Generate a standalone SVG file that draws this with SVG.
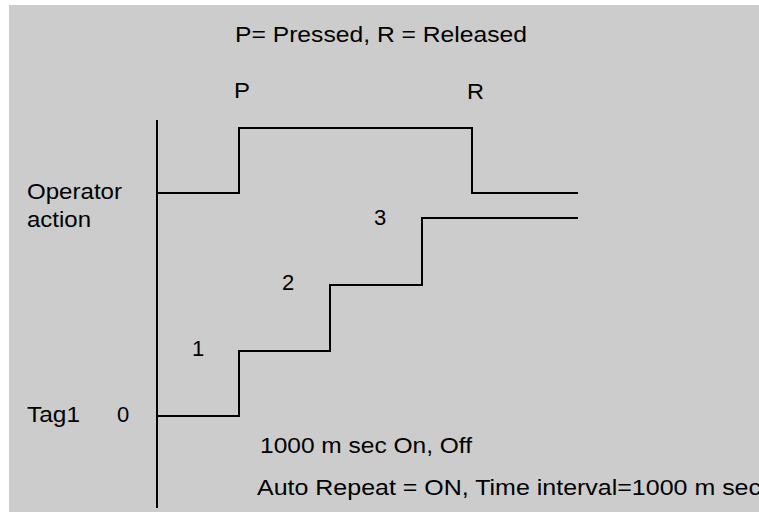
<svg xmlns="http://www.w3.org/2000/svg" width="759" height="512" viewBox="0 0 759 512">
<style>
text{font-family:"Liberation Sans",Arial,sans-serif;font-size:22px;fill:#000}
.ln{fill:none;stroke:#000;stroke-width:2;stroke-linejoin:miter}
</style>
<rect x="0" y="0" width="759" height="512" fill="#ffffff"/>
<rect x="9" y="5" width="750" height="507" fill="#cccccc"/>
<g id="title"><text x="235" y="42" textLength="292" lengthAdjust="spacingAndGlyphs">P= Pressed, R = Released</text></g>
<g id="labelP"><text x="234" y="98" textLength="16" lengthAdjust="spacingAndGlyphs">P</text></g>
<g id="labelR"><text x="467" y="99" textLength="17" lengthAdjust="spacingAndGlyphs">R</text></g>
<g id="operator-label"><text x="27" y="199" textLength="95" lengthAdjust="spacingAndGlyphs">Operator</text><text x="27" y="227" textLength="64" lengthAdjust="spacingAndGlyphs">action</text></g>
<g id="tag-label"><text x="27" y="422" textLength="53" lengthAdjust="spacingAndGlyphs">Tag1</text><text x="117" y="422">0</text></g>
<g id="step1"><text x="192" y="356">1</text></g>
<g id="step2"><text x="282" y="290">2</text></g>
<g id="step3"><text x="374" y="225">3</text></g>
<g id="note1"><text x="260" y="453" textLength="212" lengthAdjust="spacingAndGlyphs">1000 m sec On, Off</text></g>
<g id="note2"><text x="257" y="495" textLength="504" lengthAdjust="spacingAndGlyphs">Auto Repeat = ON, Time interval=1000 m sec</text></g>
<g id="connectors">
<line class="ln" x1="157" y1="120" x2="157" y2="508"/>
<polyline class="ln" points="157,193 239,193 239,128 472,128 472,193 578,193"/>
<polyline class="ln" points="157,416 239,416 239,351 330,351 330,285 422,285 422,218 578,218"/>
</g>
</svg>
